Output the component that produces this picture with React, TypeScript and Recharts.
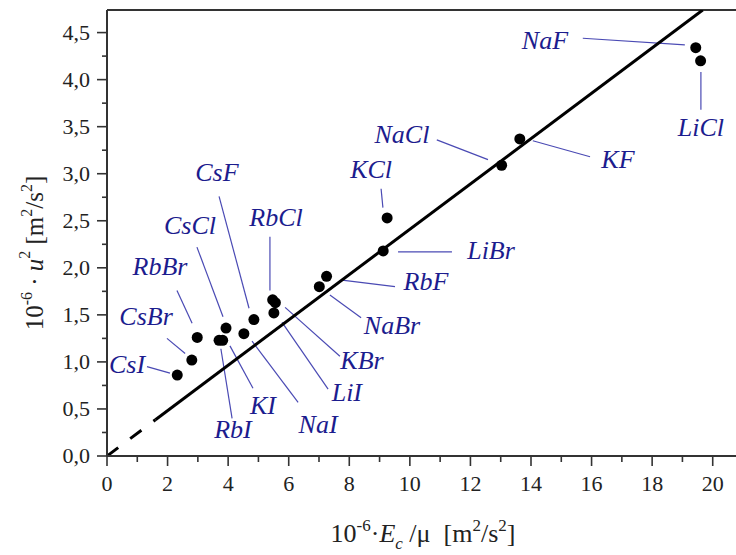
import React from 'react';
import { ComposedChart, Scatter, Line, XAxis, YAxis, ReferenceLine, ReferenceDot } from 'recharts';

// measured points: 10^-6 * Ec/mu vs 10^-6 * u^2
const compounds = ['CsI', 'CsBr', 'RbBr', 'RbI', 'KI', 'CsCl', 'NaI', 'CsF', 'RbCl', 'KBr', 'LiI', 'NaBr', 'RbF', 'LiBr', 'KCl', 'NaCl', 'KF', 'NaF', 'LiCl'];
const energyX = [2.32, 2.8, 2.98, 3.7, 3.82, 3.93, 4.52, 4.85, 5.47, 5.56, 5.51, 7.01, 7.25, 9.12, 9.25, 13.03, 13.63, 19.44, 19.6];
const velocityY = [0.86, 1.02, 1.26, 1.23, 1.23, 1.36, 1.3, 1.45, 1.66, 1.63, 1.52, 1.8, 1.91, 2.18, 2.53, 3.09, 3.37, 4.34, 4.2];

// fitted line through the origin (dashed near zero, solid beyond)
const fitDashedX = [0, 1.6];
const fitDashedY = [0, 0.386];
const fitSolidX = [1.6, 19.67];
const fitSolidY = [0.386, 4.74];

const xTicks = [0, 1, 2, 3, 4, 5, 6, 7, 8, 9, 10, 11, 12, 13, 14, 15, 16, 17, 18, 19, 20, 21];
const yTicks = [0, 0.25, 0.5, 0.75, 1, 1.25, 1.5, 1.75, 2, 2.25, 2.5, 2.75, 3, 3.25, 3.5, 3.75, 4, 4.25, 4.5];
const X_MAX = 21;
const Y_MAX = 4.74;

// label placement (text centre + leader line), in data units
const callouts = [
  { name: 'NaF', tx: 14.46, ty: 4.42, x1: 15.71, y1: 4.44, x2: 19.08, y2: 4.37 },
  { name: 'LiCl', tx: 19.61, ty: 3.49, x1: 19.61, y1: 4.08, x2: 19.61, y2: 3.68 },
  { name: 'NaCl', tx: 9.74, ty: 3.42, x1: 10.89, y1: 3.36, x2: 12.58, y2: 3.15 },
  { name: 'KF', tx: 16.87, ty: 3.15, x1: 14.06, y1: 3.35, x2: 15.95, y2: 3.18 },
  { name: 'KCl', tx: 8.72, ty: 3.04, x1: 9.05, y1: 2.84, x2: 9.11, y2: 2.64 },
  { name: 'LiBr', tx: 12.68, ty: 2.18, x1: 9.61, y1: 2.17, x2: 11.39, y2: 2.17 },
  { name: 'RbF', tx: 10.53, ty: 1.85, x1: 7.76, y1: 1.87, x2: 9.51, y2: 1.8 },
  { name: 'RbCl', tx: 5.58, ty: 2.53, x1: 5.38, y1: 2.33, x2: 5.38, y2: 1.76 },
  { name: 'CsF', tx: 3.63, ty: 3.01, x1: 3.7, y1: 2.76, x2: 4.69, y2: 1.57 },
  { name: 'CsCl', tx: 2.74, ty: 2.45, x1: 2.97, y1: 2.22, x2: 3.83, y2: 1.48 },
  { name: 'RbBr', tx: 1.75, ty: 2.01, x1: 2.31, y1: 1.76, x2: 2.81, y2: 1.41 },
  { name: 'CsBr', tx: 1.29, ty: 1.48, x1: 1.98, y1: 1.25, x2: 2.58, y2: 1.09 },
  { name: 'CsI', tx: 0.66, ty: 0.97, x1: 1.32, y1: 0.95, x2: 2.08, y2: 0.88 },
  { name: 'RbI', tx: 4.16, ty: 0.28, x1: 3.76, y1: 1.14, x2: 4.13, y2: 0.4 },
  { name: 'KI', tx: 5.15, ty: 0.54, x1: 4.06, y1: 1.17, x2: 4.82, y2: 0.72 },
  { name: 'NaI', tx: 6.97, ty: 0.33, x1: 4.79, y1: 1.22, x2: 6.31, y2: 0.57 },
  { name: 'LiI', tx: 7.92, ty: 0.68, x1: 5.78, y1: 1.42, x2: 7.3, y2: 0.71 },
  { name: 'KBr', tx: 8.42, ty: 1.02, x1: 5.88, y1: 1.58, x2: 7.69, y2: 1.06 },
  { name: 'NaBr', tx: 9.41, ty: 1.39, x1: 7.36, y1: 1.71, x2: 8.39, y2: 1.47 },
];

const points = compounds.map((name, i) => ({ name, x: energyX[i], y: velocityY[i] }));
const fitDashed = fitDashedX.map((x, i) => ({ x, y: fitDashedY[i] }));
const fitSolid = fitSolidX.map((x, i) => ({ x, y: fitSolidY[i] }));

const SERIF = "'Liberation Serif', 'Times New Roman', serif";
const AXIS = '#333';
const LABEL_BLUE = '#1c1c8e';
const LEADER_BLUE = '#4a4ab4';

const XTick = (props: any) => {
  const { x, y, payload } = props;
  const v = payload.value;
  const major = v % 2 === 0;
  return (
    <g>
      <line x1={x} x2={x} y1={y} y2={y + (major ? 10 : 6)} stroke={AXIS} strokeWidth={1.6} />
      {major && (
        <text x={x} y={y + 35} textAnchor="middle" fontFamily={SERIF} fontSize={22} fill="#222">
          {v}
        </text>
      )}
    </g>
  );
};

const YTick = (props: any) => {
  const { x, y, payload } = props;
  const v = payload.value;
  const major = Math.abs(v * 2 - Math.round(v * 2)) < 1e-6;
  return (
    <g>
      <line x1={x - (major ? 10 : 5)} x2={x} y1={y} y2={y} stroke={AXIS} strokeWidth={1.6} />
      {major && (
        <text x={x - 17} y={y + 7} textAnchor="end" fontFamily={SERIF} fontSize={22} fill="#222">
          {v.toFixed(1).replace('.', ',')}
        </text>
      )}
    </g>
  );
};

const XTitle = (props: any) => {
  const vb = props.viewBox;
  const cx = vb.x + vb.width / 2 - 2;
  const by = vb.y + 86;
  return (
    <text x={cx} y={by} textAnchor="middle" fontFamily={SERIF} fontSize={26} fill="#222" style={{ whiteSpace: 'pre' }}>
      10
      <tspan dy={-11} fontSize={17}>-6</tspan>
      <tspan dy={11}>·</tspan>
      <tspan fontStyle="italic">E</tspan>
      <tspan dy={7} fontSize={17} fontStyle="italic">c</tspan>
      <tspan dy={-7}> /μ  [m</tspan>
      <tspan dy={-11} fontSize={17}>2</tspan>
      <tspan dy={11}>/s</tspan>
      <tspan dy={-11} fontSize={17}>2</tspan>
      <tspan dy={11}>]</tspan>
    </text>
  );
};

const YTitle = (props: any) => {
  const vb = props.viewBox;
  const bx = vb.x + 43;
  const cy = vb.y + vb.height / 2 + 20;
  return (
    <text
      x={bx}
      y={cy}
      transform={`rotate(-90, ${bx}, ${cy})`}
      textAnchor="middle"
      fontFamily={SERIF}
      fontSize={25}
      fill="#222"
      style={{ whiteSpace: 'pre' }}
    >
      10
      <tspan dy={-11} fontSize={16}>-6</tspan>
      <tspan dy={11}> · </tspan>
      <tspan fontStyle="italic">u</tspan>
      <tspan dy={-13} fontSize={16}>2</tspan>
      <tspan dy={13}> [m</tspan>
      <tspan dy={-11} fontSize={16}>2</tspan>
      <tspan dy={11}>/s</tspan>
      <tspan dy={-11} fontSize={16}>2</tspan>
      <tspan dy={11}>]</tspan>
    </text>
  );
};

export default function App() {
  return (
    <div style={{ position: 'absolute', left: 0, top: 0, width: 736, height: 555, overflow: 'hidden', background: '#fff' }}>
      <ComposedChart width={760} height={555} margin={{ top: 10, right: 17, left: 0, bottom: 0 }}>
        <XAxis
          type="number"
          dataKey="x"
          domain={[0, X_MAX]}
          allowDataOverflow
          ticks={xTicks}
          interval={0}
          tickSize={0}
          tickMargin={0}
          tickLine={false}
          tick={XTick}
          height={99}
          axisLine={{ stroke: AXIS, strokeWidth: 2 }}
          label={{ content: XTitle }}
        />
        <YAxis
          type="number"
          dataKey="y"
          domain={[0, Y_MAX]}
          allowDataOverflow
          ticks={yTicks}
          interval={0}
          tickSize={0}
          tickMargin={0}
          tickLine={false}
          tick={YTick}
          width={107}
          axisLine={{ stroke: AXIS, strokeWidth: 2 }}
          label={{ content: YTitle }}
        />
        <ReferenceLine y={Y_MAX} stroke={AXIS} strokeWidth={2} ifOverflow="visible" />
        {callouts.map((c) => (
          <ReferenceLine
            key={'l' + c.name}
            segment={[{ x: c.x1, y: c.y1 }, { x: c.x2, y: c.y2 }]}
            stroke={LEADER_BLUE}
            strokeWidth={1.2}
            ifOverflow="visible"
          />
        ))}
        <Line data={fitDashed} dataKey="y" stroke="#000" strokeWidth={3} strokeDasharray="14 15" dot={false} activeDot={false} isAnimationActive={false} />
        <Line data={fitSolid} dataKey="y" stroke="#000" strokeWidth={3} dot={false} activeDot={false} isAnimationActive={false} />
        <Scatter
          data={points}
          fill="#000"
          isAnimationActive={false}
          shape={(p: any) => <circle cx={p.cx} cy={p.cy} r={5.5} fill="#000" />}
        />
        {callouts.map((c) => (
          <ReferenceDot
            key={'t' + c.name}
            x={c.tx}
            y={c.ty}
            r={0}
            ifOverflow="visible"
            shape={(p: any) => (
              <text x={p.cx} y={p.cy + 8.5} textAnchor="middle" fontFamily={SERIF} fontStyle="italic" fontSize={26} fill={LABEL_BLUE}>
                {c.name}
              </text>
            )}
          />
        ))}
      </ComposedChart>
    </div>
  );
}
